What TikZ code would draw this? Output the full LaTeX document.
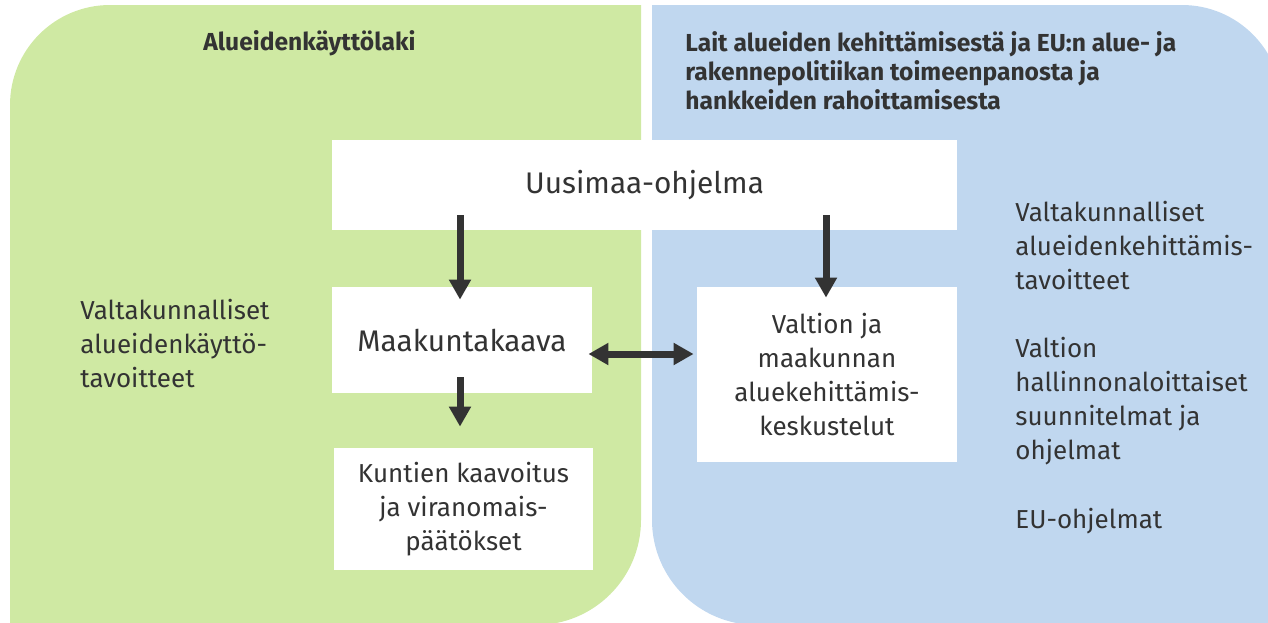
\documentclass[tikz,border=0pt]{standalone}
\usepackage{fontspec}
\setmainfont{Fira Sans}
\usetikzlibrary{arrows.meta,calc}
\definecolor{gr}{HTML}{CFE9A3}
\definecolor{bl}{HTML}{C0D7EF}
\definecolor{dk}{HTML}{333333}
\tikzset{
  >= {Triangle[width=10.5pt,length=10pt]},
  bx/.style n args={2}{rectangle, fill=white, text=dk, align=center, inner sep=0pt, minimum width=#1, minimum height=#2},
  tx/.style={text=dk, align=left, anchor=west, inner sep=0pt},
  hd/.style={text=dk, align=left, anchor=west, inner sep=0pt, font=\bfseries\fontsize{12.3pt}{14.5pt}\selectfont},
  ar/.style={draw=dk, line width=3.5pt}
}
\newcommand{\bodyfont}{\fontsize{13pt}{17pt}\selectfont}
\newcommand{\bigfont}{\fontsize{14.9pt}{17pt}\selectfont}

\begin{document}
\begin{tikzpicture}[x=0.5pt,y=-0.5pt]
  \useasboundingbox (0,0) rectangle (1268,622);
  \clip (0,0) rectangle (1268,622);
  % panels
  \fill[gr] (10,630) -- (10,105) arc[start angle=180,end angle=270,radius=100]
    -- (641,5) -- (641,520) arc[start angle=0,end angle=90,radius=105] -- cycle;
  \fill[bl] (652,5) -- (1182,5) arc[start angle=270,end angle=360,radius=100]
    -- (1282,625) -- (757,625) arc[start angle=90,end angle=180,radius=105] -- cycle;

  \node[hd] (hl) at (203,43) {Alueidenkäyttölaki};
  \node[hd] (hr) at (685,71) {Lait alueiden kehittämisestä ja EU:n alue- ja\\
    rakennepolitiikan toimeenpanosta ja\\hankkeiden rahoittamisesta};

  \node[bx={312.5pt}{45pt}, font=\bigfont] (uusi) at (644.5,185) {Uusimaa-ohjelma};
  \node[bx={130pt}{53pt}, font=\bigfont] (maak) at (462,340) {Maakuntakaava};
  \node[bx={129.5pt}{61pt}, font=\bodyfont] (kunt) at (463.5,509)
    {Kuntien kaavoitus\\ja viranomais-\\päätökset};
  \node[bx={130pt}{87.5pt}, font=\bodyfont] (valt) at (827,374.5)
    {Valtion ja\\maakunnan\\aluekehittämis-\\keskustelut};

  \node[tx, font=\bodyfont] (vat) at (80,344) {Valtakunnalliset\\alueidenkäyttö-\\tavoitteet};
  \node[tx, font=\bodyfont] (vkt) at (1015,246) {Valtakunnalliset\\alueidenkehittämis-\\tavoitteet};
  \node[tx, font=\bodyfont] (vhs) at (1015,401) {Valtion\\hallinnonaloittaiset\\suunnitelmat ja\\ohjelmat};
  \node[tx, font=\bodyfont] (euo) at (1015,521) {EU-ohjelmat};

  % arrows
  \draw[ar,->] ($(uusi.south -| maak.north)+(-2,-15)$) -- ($(maak.north)+(-2,13)$);
  \draw[ar,->] ($(uusi.south -| valt.north)+(-1,-15)$) -- ($(valt.north)+(-1,11)$);
  \draw[ar,->] ($(maak.south)+(-2,-16)$) -- ($(maak.south |- kunt.north)+(-2,-21)$);
  \coordinate (mk) at ($(maak.east)+(-4,14)$);
  \draw[ar,<->] (mk) -- ($(mk -| valt.west)+(-3,0)$);
\end{tikzpicture}
\end{document}
